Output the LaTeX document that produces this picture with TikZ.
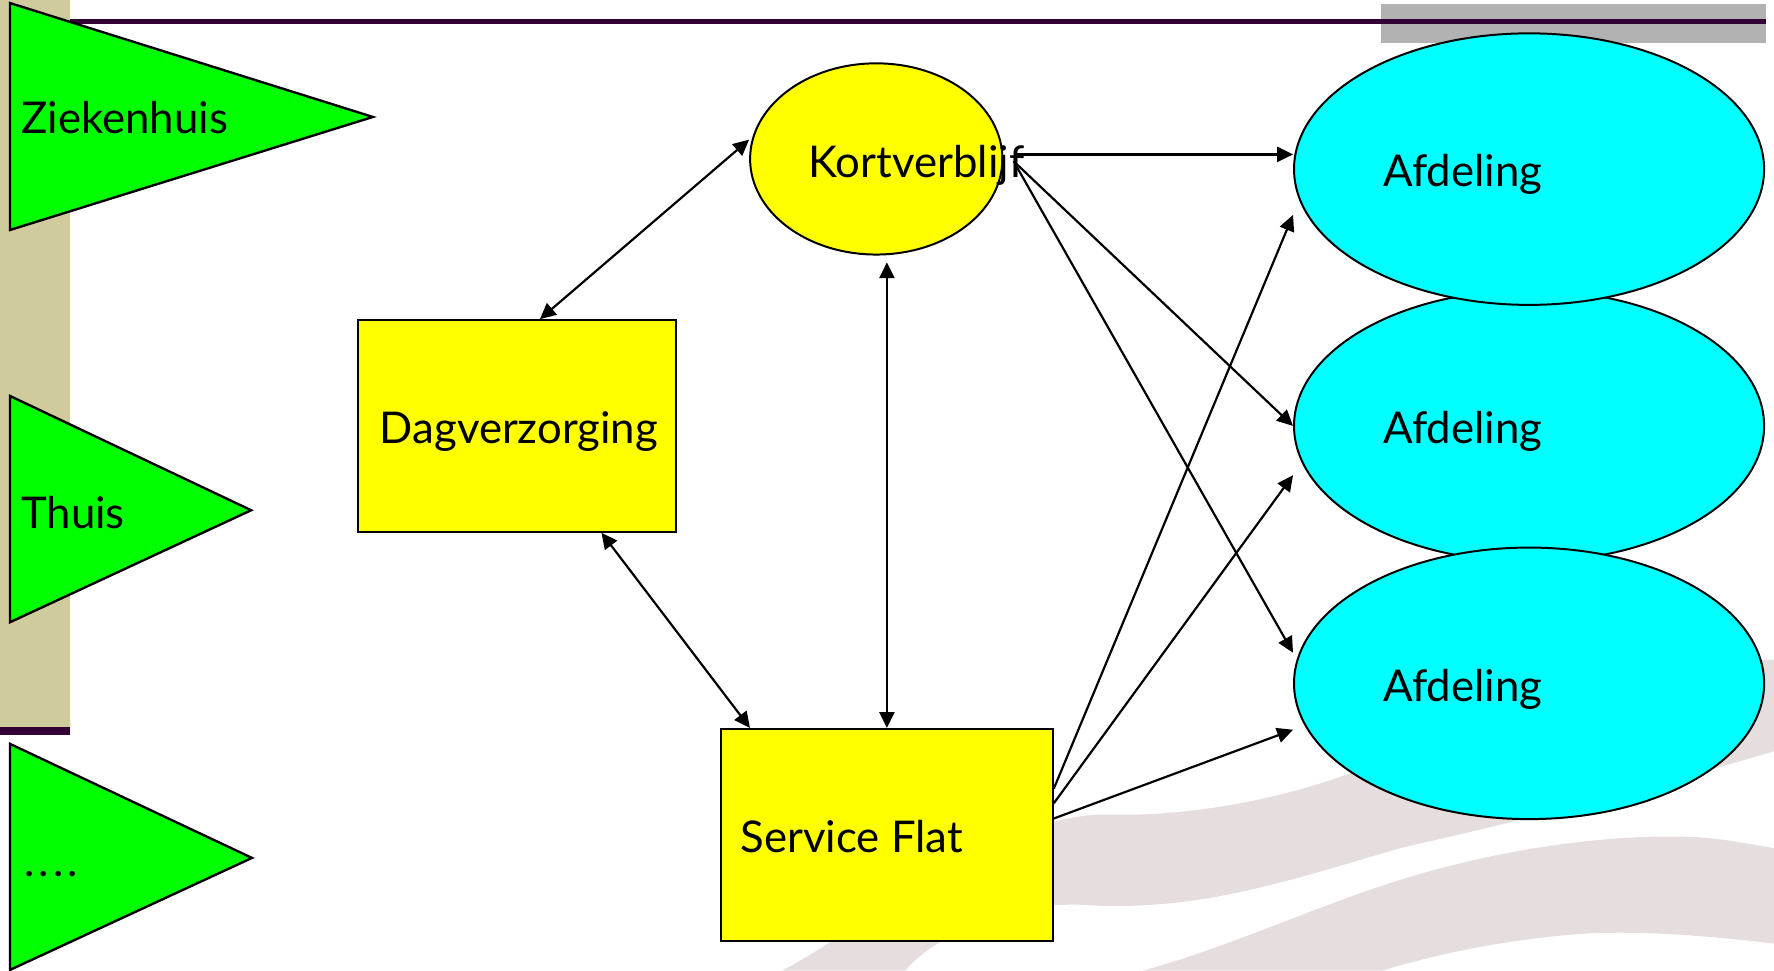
\documentclass[tikz,border=0pt]{standalone}
\usepackage{fontspec}
\setmainfont{Lato}
\usetikzlibrary{shapes.geometric}
\usetikzlibrary{arrows.meta}

\definecolor{slidetan}{RGB}{207,203,157}
\definecolor{slideplum}{RGB}{51,0,51}
\definecolor{slidegray}{RGB}{178,178,178}
\definecolor{swoosh}{RGB}{230,222,222}
\definecolor{flaggreen}{RGB}{0,255,0}
\definecolor{boxyellow}{RGB}{255,255,0}
\definecolor{wardcyan}{RGB}{0,255,255}

\begin{document}
\begin{tikzpicture}[
  box/.style={draw=black, line width=0.5pt, inner sep=0pt},
  flag/.style={draw=black, line width=0.6pt, fill=flaggreen},
  lbl/.style={anchor=base west, inner sep=0pt, font=\fontsize{11}{13}\selectfont},
  link/.style={line width=0.55pt, -{Triangle[length=4pt,width=3.8pt]}},
  dlink/.style={line width=0.55pt, {Triangle[length=4pt,width=3.8pt]}-{Triangle[length=4pt,width=3.8pt]}}
]

  \useasboundingbox (0,0) rectangle (15.68,8.58);

  % slide background
  \fill [swoosh] (6.91,0) .. controls (7.6,0.35) and (8.8,1.40) .. (9.8,1.38)
        .. controls (10.6,1.36) and (11.5,1.55) .. (12.2,1.85)
        .. controls (13.5,2.40) and (14.8,2.74) .. (15.68,2.75) -- (15.68,1.94)
        .. controls (14.6,1.62) and (13.6,1.36) .. (12.4,1.09)
        .. controls (11.4,0.80) and (10.6,0.52) .. (9.6,0.58)
        .. controls (9.0,0.62) and (8.3,0.35) .. (8.0,0) -- cycle;
  \fill [swoosh] (10.10,0) .. controls (10.9,0.22) and (11.7,0.60) .. (12.40,0.81)
        .. controls (13.2,1.06) and (14.2,1.22) .. (15.0,1.18)
        .. controls (15.3,1.16) and (15.5,1.11) .. (15.68,1.084) -- (15.68,0.24)
        .. controls (15.0,0.32) and (14.4,0.36) .. (13.9,0.32)
        .. controls (13.3,0.27) and (12.7,0.15) .. (12.22,0) -- cycle;

  \fill [slidetan] (0,8.58) rectangle (0.62,2.157);
  \fill [slideplum] (0,2.157) rectangle (0.62,2.084);
  \fill [slidegray] (12.21,8.545) rectangle (15.605,8.203);
  \draw [slideplum, line width=1.1pt] (0.62,8.391) -- (15.605,8.391);

  % sources
  \draw [flag] (0.088,8.553) -- (3.296,7.546) -- (0.088,6.547) -- cycle;
  \draw [flag] (0.088,5.08) -- (2.22,4.07) -- (0.088,3.08) -- cycle;
  \draw [flag] (0.088,2.005) -- (2.227,0.997) -- (0.088,0.007) -- cycle;

  \node [lbl] (zkh) at (0.183,7.402) {Ziekenhuis};
  \node [lbl] (thuis) at (0.18,3.91) {Thuis};
  \node [lbl] (more) at (0.21,0.83) {.\kern1pt.\kern1pt.\kern1pt.};

  % care forms
  \node [box, ellipse, fill=wardcyan, minimum width=4.155cm, minimum height=2.40cm] (afd2) at (13.515,4.815) {};
  \node [box, ellipse, fill=wardcyan, minimum width=4.155cm, minimum height=2.40cm] (afd1) at (13.515,7.085) {};
  \node [box, ellipse, fill=wardcyan, minimum width=4.155cm, minimum height=2.40cm] (afd3) at (13.515,2.54) {};
  \node [box, ellipse, fill=boxyellow, minimum width=2.23cm, minimum height=1.69cm] (kort) at (7.745,7.175) {};
  \node [box, fill=boxyellow, minimum width=2.81cm, minimum height=1.87cm] (dag) at (4.566,4.815) {};
  \node [box, fill=boxyellow, minimum width=2.934cm, minimum height=1.873cm] (sf) at (7.839,1.2005) {};

  \node [lbl] (afdlbl1) at (12.22,6.927) {Afdeling};
  \node [lbl] (afdlbl2) at (12.22,4.657) {Afdeling};
  \node [lbl] (afdlbl3) at (12.22,2.382) {Afdeling};
  \node [lbl] (kortlbl) at (7.14,7.013) {Kortverblijf};
  \node [lbl] (daglbl) at (3.35,4.656) {Dagverzorging};
  \node [lbl] (sflbl) at (6.54,1.044) {Service Flat};

  % flows
  \coordinate (kr) at ([xshift=1.2mm,yshift=0.4mm]kort.east);
  \coordinate (ks) at ([xshift=0.9mm,yshift=-0.2mm]kort.east);

  \draw [dlink] ([yshift=1.7mm]kort.west) -- ([xshift=2.06mm]dag.north);
  \draw [dlink] ([xshift=7.5mm]dag.south) -- ([xshift=-12.1mm]sf.north);
  \draw [dlink, shorten >=0.6mm] (sf.north) -- (sf.north |- kort.south);

  \draw [link] (kr) -- (kr -| afd1.west);
  \draw [link] (ks) -- (afd2.west);
  \draw [link] (ks) -- ([yshift=2.7mm]afd3.west);

  \draw [link] ([yshift=4.1mm]sf.east) -- ([yshift=-4.05mm]afd1.west);
  \draw [link] ([yshift=2.8mm]sf.east) -- ([yshift=-4.35mm]afd2.west);
  \draw [link] ([yshift=1.45mm]sf.east) -- ([yshift=-4.1mm]afd3.west);

\end{tikzpicture}
\end{document}
